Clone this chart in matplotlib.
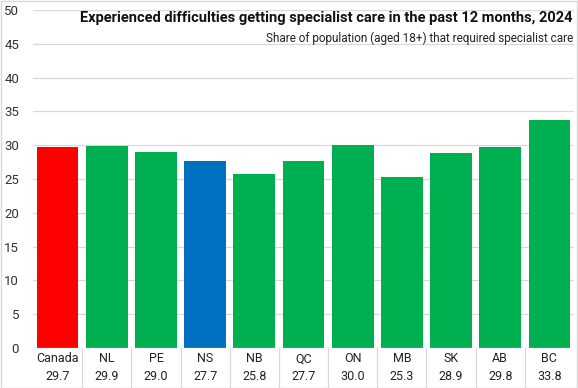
import matplotlib
matplotlib.use("Agg")
import matplotlib.pyplot as plt
from matplotlib.patches import Rectangle

categories = ["Canada", "NL", "PE", "NS", "NB", "QC", "ON", "MB", "SK", "AB", "BC"]
values = [29.7, 29.9, 29.0, 27.7, 25.8, 27.7, 30.0, 25.3, 28.9, 29.8, 33.8]
colors = ["#FF0000", "#00B050", "#00B050", "#0070C0"] + ["#00B050"] * 7
title = "Experienced difficulties getting specialist care in the past 12 months, 2024"
subtitle = "Share of population (aged 18+) that required specialist care"

plt.rcParams['font.family'] = ['Roboto', 'DejaVu Sans']

W, H = 578, 388
fig = plt.figure(figsize=(W / 100, H / 100), dpi=100)
ax = fig.add_axes([33 / W, 40 / H, (574 - 33) / W, (348 - 10) / H])

x = list(range(len(categories)))
ax.bar(x, values, width=0.85, color=colors, zorder=3)
ax.set_xlim(-0.5, len(categories) - 0.5)
ax.set_ylim(0, 50)
ax.set_yticks(range(0, 51, 5))
ax.tick_params(axis='y', length=0, labelsize=9.5, colors='#333333', pad=10)
ax.set_xticks([])
ax.grid(axis='y', color='#D9D9D9', linewidth=0.9, zorder=0)
for s in ax.spines.values():
    s.set_visible(False)
ax.axhline(0, color='#D9D9D9', linewidth=0.9, zorder=4)

# table below axis
for i, (c, v) in enumerate(zip(categories, values)):
    ax.annotate(c, (i, 0), xycoords='data', xytext=(0, -11), textcoords='offset pixels',
                ha='center', va='center', fontsize=9, color='#222222', annotation_clip=False)
    ax.annotate(f"{v:.1f}", (i, 0), xycoords='data', xytext=(0, -29), textcoords='offset pixels',
                ha='center', va='center', fontsize=9, color='#222222', annotation_clip=False)
for b in range(1, len(categories)):
    ax.plot([b - 0.5, b - 0.5], [0, -40 / 6.76], color='#D9D9D9', linewidth=0.9,
            clip_on=False, zorder=1)

fig.text(573 / W, 1 - 18 / H, title, ha='right', va='center', fontsize=10.5,
         fontweight='bold', color='#111111')
fig.text(573 / W, 1 - 38 / H, subtitle, ha='right', va='center', fontsize=8.5,
         color='#222222')

fig.add_artist(Rectangle((0.5 / W, 0.5 / H), 1 - 1.5 / W, 1 - 1.5 / H, transform=fig.transFigure,
                         fill=False, edgecolor='#D9D9D9', linewidth=1))

fig.savefig("out.png", dpi=100)
